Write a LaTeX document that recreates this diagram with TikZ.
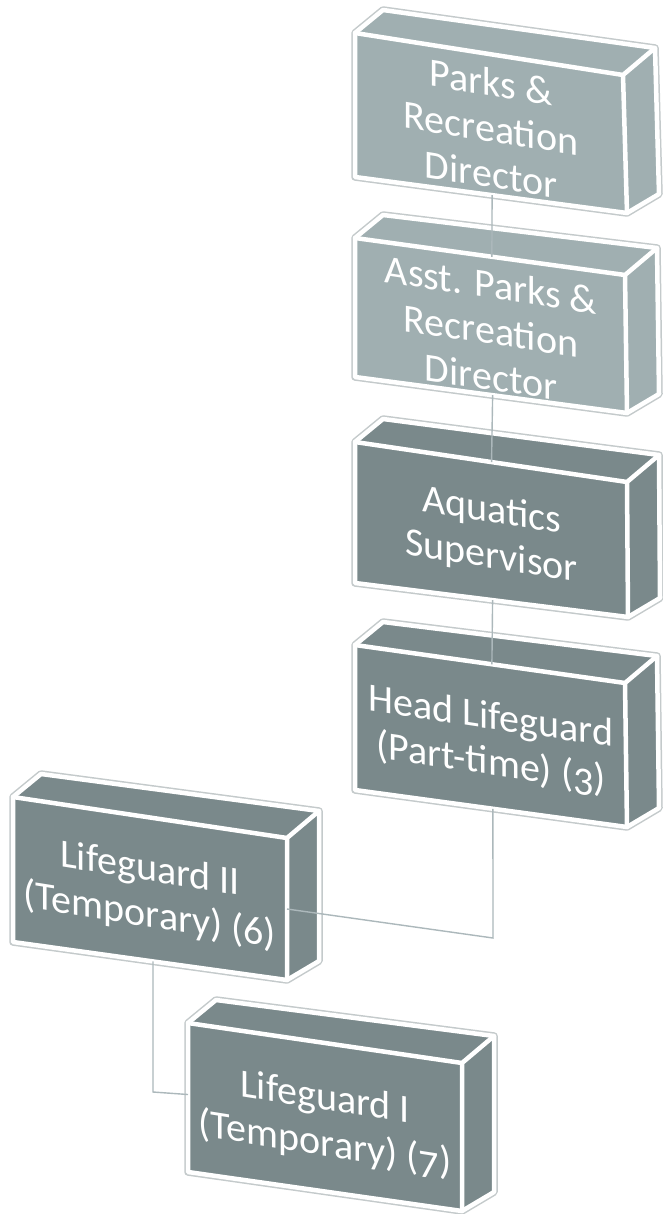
\documentclass[tikz,border=0pt]{standalone}
\usepackage{fontspec}
\setmainfont{Carlito}
\usetikzlibrary{calc}
\definecolor{lightbox}{RGB}{160,175,177}
\definecolor{darkbox}{RGB}{122,137,139}
\definecolor{rimcol}{RGB}{196,202,203}
\definecolor{conncol}{RGB}{172,184,187}
\newcommand\osf[1]{\raisebox{-6pt}{#1}}
\tikzset{
  rimline/.style={draw=rimcol, line width=7.5pt, line join=round},
  edgeline/.style={draw=white, line width=4.5pt, line join=round, line cap=round},
  boxtext/.style={text=white, align=center, inner sep=0pt,
    font=\fontsize{40}{46}\selectfont},
  conn/.style={draw=conncol, line width=1.4pt}
}
\newcommand\orgbox[8]{%
  \coordinate (#1a) at #2;
  \coordinate (#1b) at #3;
  \coordinate (#1c) at #4;
  \coordinate (#1d) at #5;
  \coordinate (#1e) at ($(#1a)+(28,-23)$);
  \coordinate (#1f) at ($(#1b)+(32,-27)$);
  \coordinate (#1g) at ($(#1c)+(32,-19)$);
  \path[rimline] (#1a) -- (#1e) -- (#1f) -- (#1g) -- (#1c) -- (#1d) -- cycle;
  \fill[#6] (#1a) -- (#1b) -- (#1c) -- (#1d) -- cycle;
  \fill[#6] (#1a) -- (#1e) -- (#1f) -- (#1b) -- cycle;
  \fill[#6] (#1b) -- (#1f) -- (#1g) -- (#1c) -- cycle;
  \path[edgeline] (#1a) -- (#1e) -- (#1f) -- (#1g) -- (#1c) -- (#1d) -- cycle;
  \path[edgeline] (#1a) -- (#1b) -- (#1c) (#1b) -- (#1f);
  \node[boxtext, yslant=#8] (#1) at ($($(#1a)!0.5!(#1c)$)+(0,5)$) {#7};
}
\begin{document}
\begin{tikzpicture}[x=1pt,y=-1pt]
\useasboundingbox (0,0) rectangle (662,1214);
\fill[white] (0,0) rectangle (662,1214);

\orgbox{b1}{(355,33)}{(623,75)}{(627,213)}{(355,177)}{lightbox}{Parks \&\\Recreation\\Director}{-0.16}
\orgbox{b2}{(355,238)}{(625,275)}{(627,413)}{(355,377)}{lightbox}{Asst. Parks \&\\Recreation\\Director}{-0.15}
\orgbox{b3}{(355,442)}{(627,482)}{(628,617)}{(355,583)}{darkbox}{Aquatics\\Supervisor}{-0.16}
\orgbox{b4}{(355,645)}{(625,683)}{(627,827)}{(355,790)}{darkbox}{Head Lifeguard\\(Part-time) (\osf{3})}{-0.15}
\orgbox{b5}{(13,797)}{(287,838)}{(287,980)}{(13,942)}{darkbox}{Lifeguard II\\(Temporary) (6)}{-0.16}
\orgbox{b6}{(188,1023)}{(462,1063)}{(462,1211)}{(188,1172)}{darkbox}{Lifeguard I\\(Temporary) (\osf{7})}{-0.16}

\coordinate (b1bot) at ($(b1d)!0.504!(b1c)$);
\coordinate (b2top) at ($(b2a)!0.507!(b2b)$);
\coordinate (b2bot) at ($(b2d)!0.506!(b2c)$);
\coordinate (b3top) at ($(b3a)!0.502!(b3b)$);
\coordinate (b3bot) at ($(b3d)!0.504!(b3c)$);
\coordinate (b4top) at ($(b4a)!0.507!(b4b)$);
\coordinate (b4bot) at ($(b4d)!0.507!(b4c)$);
\coordinate (j45) at (493,938);
\coordinate (b5r) at ($(b5b)!0.5!(b5c)$);
\coordinate (b5bot) at ($(b5d)!0.511!(b5c)$);
\coordinate (j56) at (153,1092);
\coordinate (b6l) at ($(b6a)!0.48!(b6d)$);

\draw[conn] (b1bot) -- (b2top);
\draw[conn] (b2bot) -- (b3top);
\draw[conn] (b3bot) -- (b4top);
\draw[conn] (b4bot) -- (j45) -- (b5r);
\draw[conn] (b5bot) -- (j56) -- (b6l);
\end{tikzpicture}
\end{document}
